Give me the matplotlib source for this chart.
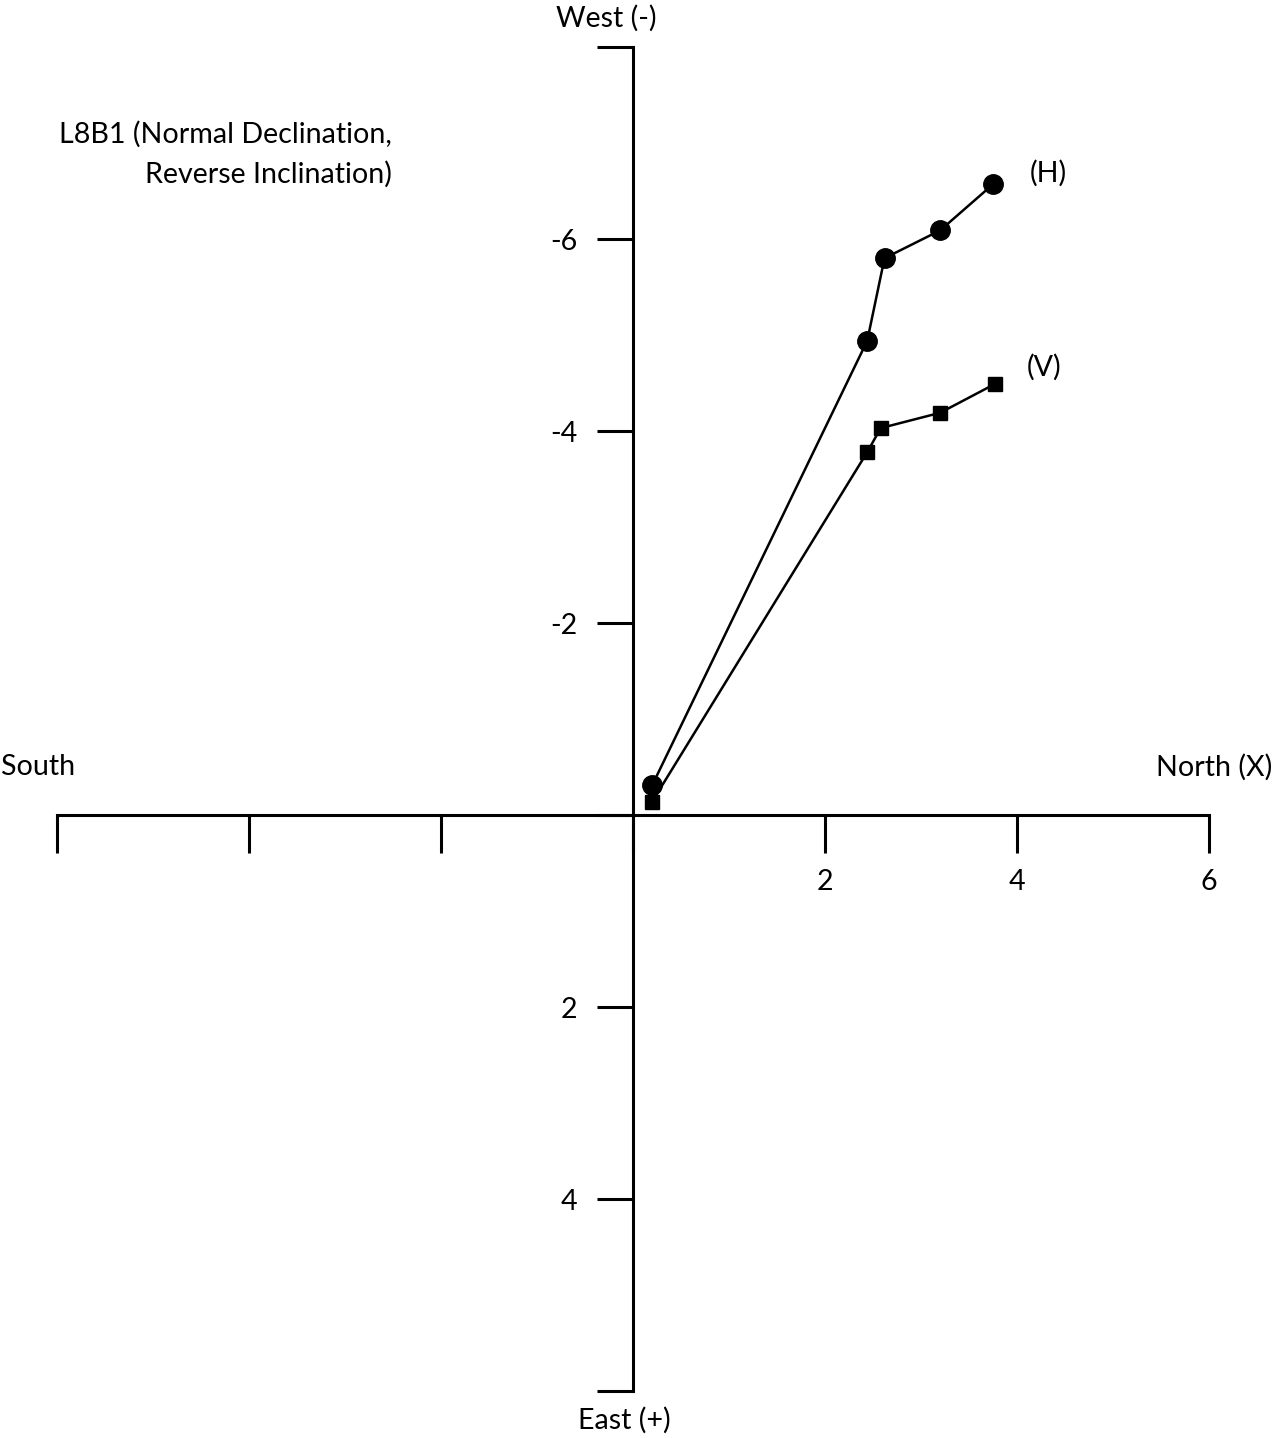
import matplotlib
matplotlib.use("Agg")
import matplotlib.pyplot as plt
from matplotlib.ticker import FixedLocator, FixedFormatter

# Data (North = X, East = Y; West negative)
h_north = [0.20, 2.44, 2.62, 3.20, 3.75]
h_east = [-0.31, -4.94, -5.80, -6.09, -6.57]
v_north = [0.20, 2.44, 2.58, 3.20, 3.77]
v_east = [-0.14, -3.78, -4.03, -4.19, -4.49]

x_ticks = [-6, -4, -2, 0, 2, 4, 6]
x_labels = ["", "", "", "", "2", "4", "6"]
y_ticks = [-8, -6, -4, -2, 0, 2, 4, 6]
y_labels = ["", "-6", "-4", "-2", "", "2", "4", ""]

plt.rcParams['font.family'] = ['Lato', 'DejaVu Sans']

W, H = 1275, 1438
fig = plt.figure(figsize=(W / 100, H / 100), dpi=100)
ax = fig.add_axes([0, 0, 1, 1])
ax.set_xlim(-633 / 96, (W - 633) / 96)
ax.set_ylim((H - 815) / 96, -815 / 96)

ax.plot(h_north, h_east, color='black', lw=1.8, marker='o', ms=14, zorder=3)
ax.plot(v_north, v_east, color='black', lw=1.8, marker='s', ms=10.5, zorder=3)

for s in ['top', 'right']:
    ax.spines[s].set_visible(False)
ax.spines['left'].set_position(('data', 0))
ax.spines['bottom'].set_position(('data', 0))
ax.spines['left'].set_bounds(-8, 6)
ax.spines['bottom'].set_bounds(-6, 6)
for s in ['left', 'bottom']:
    ax.spines[s].set_linewidth(2.2)

fs = 20.6
ax.xaxis.set_major_locator(FixedLocator(x_ticks))
ax.xaxis.set_major_formatter(FixedFormatter(x_labels))
ax.yaxis.set_major_locator(FixedLocator(y_ticks))
ax.yaxis.set_major_formatter(FixedFormatter(y_labels))
ax.tick_params(axis='x', direction='out', length=27, width=2.2, pad=12, labelsize=fs)
ax.tick_params(axis='y', direction='out', length=26, width=2.2, pad=14, labelsize=fs)

fig.text(606 / W, 1 - 18 / H, "West (-)", ha='center', va='center', fontsize=fs)
fig.text(624 / W, 1 - 1420 / H, "East (+)", ha='center', va='center', fontsize=fs)
fig.text(1 / W, 1 - 767 / H, "South", ha='left', va='center', fontsize=fs)
fig.text(1272 / W, 1 - 767 / H, "North (X)", ha='right', va='center', fontsize=fs)
fig.text(392 / W, 1 - 154 / H, "L8B1 (Normal Declination,\nReverse Inclination)",
         ha='right', va='center', fontsize=fs, linespacing=1.6)
fig.text(1030 / W, 1 - 173 / H, "(H)", ha='left', va='center', fontsize=fs)
fig.text(1027 / W, 1 - 367 / H, "(V)", ha='left', va='center', fontsize=fs)

fig.savefig("out.png", dpi=100)
